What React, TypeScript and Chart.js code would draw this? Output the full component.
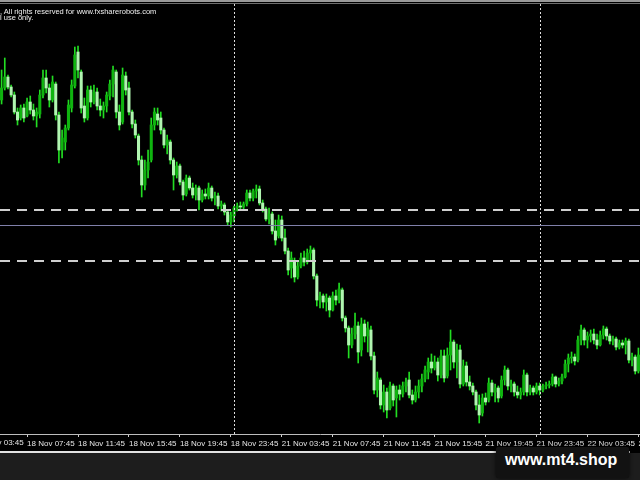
import React, { useEffect, useRef } from "react";
import { Chart, registerables } from "chart.js";

Chart.register(...registerables);

// ---- categories (15-minute bars) ----
const days = ["18 Nov", "21 Nov", "22 Nov"];
const dayFirstBar = ["05:45", "00:00", "00:00"];
const dayBarCount = [73, 96, 32];

// ---- axis tick labels shown by the terminal ----
const tickLabels = [
  "18 Nov 07:45", "18 Nov 11:45", "18 Nov 15:45", "18 Nov 19:45", "18 Nov 23:45",
  "21 Nov 03:45", "21 Nov 07:45", "21 Nov 11:45", "21 Nov 15:45", "21 Nov 19:45",
  "21 Nov 23:45", "22 Nov 03:45", "22 Nov 07:45",
];
const hiddenLeftLabel = "18 Nov 03:45";
const separatorLabels = ["21 Nov 00:00", "22 Nov 00:00"];

// ---- price levels (points) ----
const dashedLevels = [224, 173];
const solidLevels = [209];

// ---- OHLC series (points) ----
const opens = [
  334, 346, 357, 347, 339, 322, 316, 326, 318, 332,
  324, 318, 320, 339, 356, 346, 334, 350, 319, 284,
  292, 306, 326, 348, 382, 362, 328, 316, 344, 332,
  342, 328, 324, 328, 338, 350, 362, 322, 312, 358,
  346, 322, 310, 298, 274, 249, 264, 274, 309, 320,
  316, 304, 289, 292, 274, 259, 268, 252, 240, 256,
  246, 239, 246, 234, 240, 238, 246, 236, 238, 228,
  229, 222, 212, 218, 226, 228, 227, 230, 241, 236,
  243, 245, 231, 225, 215, 220, 203, 198, 214, 196,
  183, 166, 172, 157, 168, 176, 172, 181, 184, 158,
  134, 138, 132, 136, 124, 138, 134, 144, 116, 106,
  89, 100, 108, 84, 110, 98, 104, 78, 44, 54,
  29, 42, 26, 48, 36, 44, 40, 48, 54, 39,
  34, 42, 48, 55, 62, 72, 66, 72, 59, 78,
  58, 79, 92, 72, 84, 50, 68, 52, 48, 42,
  29, 21, 36, 34, 51, 42, 46, 38, 54, 64,
  48, 50, 42, 39, 42, 59, 42, 46, 42, 48,
  44, 48, 49, 50, 57, 50, 53, 57, 70, 76,
  77, 74, 94, 104, 94, 98, 100, 94, 89, 99,
  105, 98, 93, 95, 87, 91, 89, 93, 74, 77,
  63,
];
const highs = [
  364, 376, 359, 349, 342, 326, 329, 330, 336, 338,
  330, 326, 344, 364, 364, 350, 358, 352, 322, 304,
  309, 334, 354, 387, 388, 364, 336, 348, 348, 349,
  346, 335, 332, 342, 354, 368, 364, 329, 366, 362,
  352, 324, 314, 300, 278, 274, 284, 316, 326, 326,
  322, 306, 299, 294, 276, 272, 270, 254, 259, 258,
  251, 249, 248, 244, 245, 251, 248, 242, 241, 233,
  231, 224, 222, 228, 231, 232, 232, 244, 244, 245,
  249, 248, 234, 227, 226, 222, 214, 219, 218, 205,
  186, 182, 176, 172, 181, 183, 185, 188, 186, 160,
  142, 140, 140, 138, 142, 144, 151, 146, 118, 108,
  106, 121, 112, 116, 114, 112, 108, 82, 62, 56,
  49, 46, 52, 50, 48, 49, 52, 56, 62, 44,
  48, 54, 60, 68, 76, 80, 78, 76, 84, 84,
  86, 104, 94, 90, 89, 74, 72, 58, 51, 44,
  39, 40, 41, 56, 54, 50, 48, 58, 68, 66,
  54, 52, 48, 46, 64, 61, 49, 48, 51, 51,
  50, 52, 53, 60, 58, 56, 60, 74, 80, 82,
  80, 98, 109, 106, 102, 104, 105, 100, 103, 108,
  107, 100, 98, 97, 94, 94, 96, 95, 81, 79,
  86,
];
const lows = [
  330, 344, 345, 337, 320, 309, 314, 312, 317, 320,
  314, 307, 316, 336, 341, 327, 332, 314, 271, 276,
  284, 304, 322, 346, 356, 321, 312, 314, 327, 330,
  324, 318, 316, 322, 334, 337, 316, 304, 310, 339,
  319, 306, 296, 269, 237, 244, 256, 272, 304, 309,
  300, 286, 280, 270, 244, 256, 249, 234, 238, 244,
  236, 234, 224, 232, 235, 235, 233, 229, 225, 223,
  219, 209, 207, 212, 223, 224, 225, 228, 233, 233,
  236, 229, 222, 213, 210, 200, 189, 196, 193, 180,
  159, 156, 152, 155, 166, 168, 170, 173, 155, 128,
  126, 126, 123, 117, 123, 129, 131, 113, 102, 76,
  86, 95, 71, 78, 92, 82, 74, 40, 37, 25,
  22, 16, 24, 28, 17, 34, 37, 42, 36, 30,
  32, 36, 42, 52, 55, 61, 64, 53, 56, 52,
  56, 64, 66, 56, 46, 48, 48, 44, 39, 24,
  11, 18, 29, 32, 38, 32, 32, 36, 49, 44,
  42, 38, 36, 35, 39, 38, 39, 39, 40, 39,
  42, 45, 46, 48, 47, 48, 50, 56, 62, 71,
  69, 72, 89, 89, 86, 92, 90, 85, 88, 95,
  94, 90, 89, 84, 85, 86, 80, 71, 68, 60,
  61,
];
const closes = [
  346, 357, 347, 339, 322, 314, 326, 316, 332, 324,
  318, 322, 339, 356, 346, 334, 352, 319, 284, 296,
  306, 329, 349, 379, 364, 326, 316, 344, 332, 342,
  328, 324, 328, 339, 350, 364, 322, 309, 359, 344,
  322, 310, 299, 274, 249, 264, 272, 309, 322, 314,
  304, 289, 294, 274, 259, 268, 252, 239, 256, 246,
  239, 246, 234, 240, 238, 246, 236, 238, 228, 230,
  222, 212, 219, 226, 228, 227, 230, 241, 236, 243,
  245, 231, 225, 215, 220, 203, 194, 214, 196, 183,
  164, 176, 157, 168, 176, 172, 181, 184, 158, 134,
  138, 132, 136, 124, 138, 134, 145, 116, 106, 89,
  100, 108, 82, 110, 98, 106, 78, 44, 56, 29,
  42, 24, 48, 34, 44, 40, 48, 52, 39, 34,
  42, 48, 55, 64, 72, 66, 72, 59, 78, 56,
  79, 92, 72, 84, 50, 68, 52, 48, 42, 29,
  19, 36, 32, 51, 42, 46, 36, 54, 64, 48,
  50, 42, 39, 42, 59, 42, 46, 42, 48, 44,
  48, 49, 50, 57, 50, 53, 57, 70, 76, 77,
  73, 94, 104, 94, 98, 100, 94, 89, 99, 105,
  98, 93, 95, 87, 91, 89, 93, 74, 77, 63,
  79,
];

function buildLabels(): string[] {
  const out: string[] = [];
  days.forEach((d, k) => {
    const [h, m] = dayFirstBar[k].split(":").map(Number);
    const start = h * 60 + m;
    for (let j = 0; j < dayBarCount[k]; j++) {
      const t = start + 15 * j;
      const hh = String(Math.floor(t / 60)).padStart(2, "0");
      const mm = String(t % 60).padStart(2, "0");
      out.push(`${d} ${hh}:${mm}`);
    }
  });
  return out;
}
const labels = buildLabels();

const BULL = "#0fb40f";
const BEAR = "#b0f5b0";
const WICK = "#22dd22";

const overlayPlugin = {
  id: "mt4Overlay",
  afterDatasetsDraw(chart: any) {
    const { ctx, chartArea, scales } = chart;
    const xs = scales.x;
    const ys = scales.y;
    ctx.save();
    ctx.beginPath();
    ctx.rect(chartArea.left, chartArea.top, chartArea.right - chartArea.left, chartArea.bottom - chartArea.top);
    ctx.clip();
    ctx.setLineDash([2, 2]);
    ctx.strokeStyle = "#dedede";
    ctx.lineWidth = 1;
    separatorLabels.forEach((l) => {
      const px = Math.round(xs.getPixelForValue(labels.indexOf(l))) + 0.5;
      ctx.beginPath();
      ctx.moveTo(px, chartArea.top);
      ctx.lineTo(px, chartArea.bottom);
      ctx.stroke();
    });
    ctx.setLineDash([10, 7]);
    ctx.strokeStyle = "#cfcfcf";
    ctx.lineWidth = 2;
    dashedLevels.forEach((v) => {
      const py = Math.round(ys.getPixelForValue(v));
      ctx.beginPath();
      ctx.moveTo(chartArea.left, py);
      ctx.lineTo(chartArea.right, py);
      ctx.stroke();
    });
    ctx.setLineDash([]);
    ctx.strokeStyle = "#8080aa";
    ctx.lineWidth = 1;
    solidLevels.forEach((v) => {
      const py = Math.round(ys.getPixelForValue(v)) + 0.5;
      ctx.beginPath();
      ctx.moveTo(chartArea.left, py);
      ctx.lineTo(chartArea.right, py);
      ctx.stroke();
    });
    ctx.restore();
  },
};

export default function App() {
  const ref = useRef<HTMLCanvasElement>(null);
  useEffect(() => {
    const chart = new Chart(ref.current as HTMLCanvasElement, {
      type: "bar",
      data: {
        labels,
        datasets: [
          {
            label: "body",
            data: opens.map((o, i) => [o, closes[i]]) as any,
            backgroundColor: opens.map((o, i) => (closes[i] >= o ? BULL : BEAR)),
            barThickness: 2.4,
            grouped: false,
            order: 0,
          } as any,
          {
            label: "wick",
            data: lows.map((l, i) => [l, highs[i]]) as any,
            backgroundColor: WICK,
            barThickness: 1,
            grouped: false,
            order: 1,
          } as any,
        ],
      },
      options: {
        animation: false,
        responsive: false,
        maintainAspectRatio: false,
        layout: { padding: { top: 4, left: 0, right: 0, bottom: 0 } },
        plugins: { legend: { display: false }, tooltip: { enabled: false } },
        scales: {
          x: {
            grid: { display: true, drawOnChartArea: false, drawTicks: true, tickLength: 3, color: "#cfcfcf", offset: false },
            border: { display: true, color: "#bdbdbd", width: 1 },
            ticks: {
              autoSkip: false,
              maxRotation: 0,
              minRotation: 0,
              align: "start",
              padding: 2,
              color: "#e4e4e4",
              font: { family: "'Liberation Sans', Arial, sans-serif", size: 8 },
              callback: (_v: any, index: number) => (tickLabels.includes(labels[index]) ? labels[index] : null),
            },
            afterFit: (s: any) => {
              s.height = 17;
              s.paddingLeft = 0;
              s.paddingRight = 0;
            },
          } as any,
          y: { display: false, min: 0, max: 430 },
        },
      },
      plugins: [overlayPlugin],
    });
    return () => chart.destroy();
  }, []);

  const abs: React.CSSProperties = { position: "absolute", whiteSpace: "nowrap" };
  return (
    <div
      style={{
        position: "fixed", left: 0, top: 0, width: 640, height: 480, background: "#000",
        overflow: "hidden", fontFamily: "'Liberation Sans', Arial, sans-serif",
      }}
    >
      <canvas ref={ref} width={640} height={451} style={{ position: "absolute", left: 0, top: 0, width: 640, height: 451, display: "block" }} />
      <div style={{ ...abs, left: 0, top: 0, width: 640, height: 2, background: "#9a9a9a" }} />
      <div style={{ ...abs, left: 0, top: 3, width: 640, height: 1, background: "#6e6e6e" }} />
      <div style={{ ...abs, left: 0, top: 7.8, fontSize: 7.5, lineHeight: "7.5px", color: "#f0f0f0" }}>
        , All rights reserved for www.fxsharerobots.com
      </div>
      <div style={{ ...abs, left: 0, top: 14.2, fontSize: 7.5, lineHeight: "7.5px", color: "#f0f0f0" }}>l use only.</div>
      <div style={{ ...abs, left: -23.9, top: 439.2, fontSize: 8, lineHeight: "8px", color: "#e4e4e4" }}>{hiddenLeftLabel}</div>
      <div style={{ ...abs, left: 0, top: 451, width: 630, height: 2, background: "#e2e2e2" }} />
      <div style={{ ...abs, left: 0, top: 453, width: 640, height: 27, background: "#1d1d1d" }} />
      <div
        style={{
          ...abs, left: 496, top: 447, width: 133, height: 31, background: "#121212",
          borderRadius: 2, boxShadow: "0 0 4px rgba(0,0,0,0.8)",
        }}
      />
      <div style={{ ...abs, left: 505, top: 451.5, fontSize: 16, lineHeight: "16px", fontWeight: "bold", color: "#ffffff" }}>
        www.mt4.shop
      </div>
    </div>
  );
}
